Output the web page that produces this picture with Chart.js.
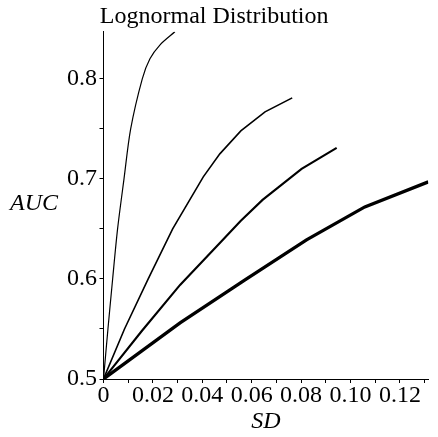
<!DOCTYPE html>
<html>
<head>
<meta charset="utf-8">
<title>Lognormal Distribution</title>
<script src="https://cdn.jsdelivr.net/npm/chart.js@4"></script>
<style>
  body { margin: 0; background: #fff; }
  canvas { display: block; }
</style>
</head>
<body>
<canvas id="aucChart" width="438" height="437"></canvas>
<script>
// AUC against SD, one curve per setting (thin -> thick)
const sd1 = [0, 0.0018, 0.0037, 0.0057, 0.0083, 0.011, 0.0157, 0.0188, 0.0229, 0.0289];
const auc1 = [0.5, 0.55, 0.6, 0.65, 0.70, 0.75, 0.80, 0.82, 0.834, 0.847];

const sd2 = [0, 0.0085, 0.0181, 0.028, 0.0404, 0.0471, 0.0556, 0.0654, 0.0764];
const auc2 = [0.5, 0.55, 0.6, 0.65, 0.702, 0.725, 0.748, 0.767, 0.781];

const sd3 = [0, 0.0155, 0.031, 0.0471, 0.0555, 0.0644, 0.0802, 0.0944];
const auc3 = [0.5, 0.548, 0.594, 0.636, 0.658, 0.679, 0.710, 0.731];

const sd4 = [0, 0.031, 0.0573, 0.0822, 0.1058, 0.1315];
const auc4 = [0.5, 0.556, 0.599, 0.639, 0.672, 0.697];

const lineWidths = [1.2, 1.6, 2.1, 3.3];

// axis range follows the data, like the original plot
const xMax = Math.max(...sd1, ...sd2, ...sd3, ...sd4);
const yMax = Math.max(...auc1, ...auc2, ...auc3, ...auc4);

function toPoints(xs, ys) {
  return xs.map((x, i) => ({ x: x, y: ys[i] }));
}

const serif = '"Liberation Serif", "Times New Roman", serif';

// horizontal "AUC" label left of the y axis
const yLabelPlugin = {
  id: "yLabel",
  afterDraw(chart) {
    const { ctx, chartArea } = chart;
    ctx.save();
    ctx.font = "italic 24px " + serif;
    ctx.fillStyle = "#000";
    ctx.textAlign = "left";
    ctx.textBaseline = "alphabetic";
    ctx.fillText("AUC", chartArea.left - 93.5, (chartArea.top + chartArea.bottom) / 2 + 5);
    ctx.restore();
  },
};

const ctx = document.getElementById("aucChart").getContext("2d");

new Chart(ctx, {
  type: "line",
  data: {
    datasets: [
      { data: toPoints(sd1, auc1), borderWidth: lineWidths[0], tension: 0.3 },
      { data: toPoints(sd2, auc2), borderWidth: lineWidths[1] },
      { data: toPoints(sd3, auc3), borderWidth: lineWidths[2] },
      { data: toPoints(sd4, auc4), borderWidth: lineWidths[3] },
    ],
  },
  options: {
    responsive: false,
    animation: false,
    parsing: false,
    elements: {
      point: { radius: 0 },
      line: { borderColor: "#000", tension: 0, fill: false },
    },
    layout: { padding: { left: 0, right: 9.7, top: 0, bottom: 0 } },
    plugins: {
      legend: { display: false },
      tooltip: { enabled: false },
      title: {
        display: true,
        text: "Lognormal Distribution",
        color: "#000",
        font: { family: serif, size: 24, weight: "normal" },
        padding: { top: 2.5, bottom: 0.5 },
      },
    },
    scales: {
      x: {
        type: "linear",
        min: 0,
        max: xMax,
        border: { color: "#000", width: 1 },
        grid: { drawOnChartArea: false, drawTicks: true, tickLength: 4, color: "#000" },
        ticks: {
          stepSize: 0.01,
          includeBounds: false,
          autoSkip: false,
          maxRotation: 0,
          padding: -2,
          color: "#000",
          font: { family: serif, size: 24 },
          callback: (v) => {
            const k = Math.round(v * 100);
            if (k % 2 !== 0) return "";
            return k === 0 ? "0" : v.toFixed(2);
          },
        },
        title: {
          display: true,
          text: "SD",
          color: "#000",
          font: { family: serif, size: 24, style: "italic" },
          padding: { top: 0, bottom: 0.5 },
        },
        afterFit: (scale) => {
          scale.height = 58;
        },
      },
      y: {
        type: "linear",
        min: 0.5,
        max: yMax,
        border: { color: "#000", width: 1 },
        grid: { drawOnChartArea: false, drawTicks: true, tickLength: 4, color: "#000" },
        ticks: {
          stepSize: 0.05,
          includeBounds: false,
          autoSkip: false,
          padding: 2.5,
          color: "#000",
          font: { family: serif, size: 24 },
          callback: (v) => {
            const k = Math.round(v * 100);
            return k % 10 === 0 ? v.toFixed(1) : "";
          },
        },
        afterFit: (scale) => {
          scale.width = 103.5;
        },
      },
    },
  },
  plugins: [yLabelPlugin],
});
</script>
</body>
</html>
